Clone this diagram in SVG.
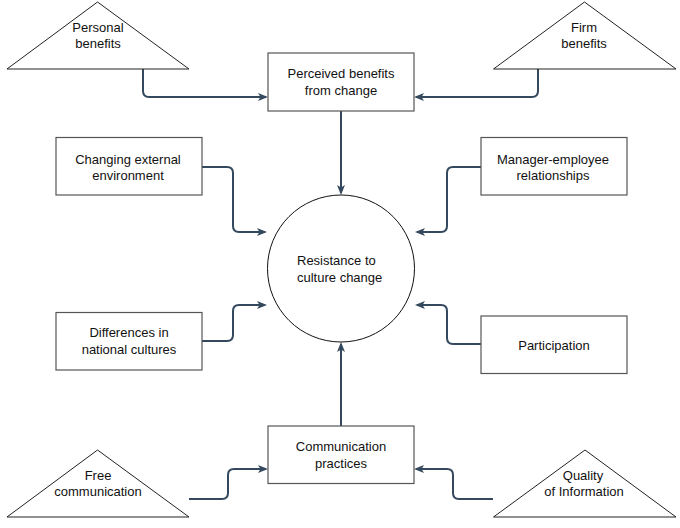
<svg xmlns="http://www.w3.org/2000/svg" width="680" height="528" viewBox="0 0 680 528">
<defs>
<style>
.box{fill:#fff;stroke:#555;stroke-width:1.2}
.tri{fill:#fff;stroke:#222;stroke-width:1}
.lbl{font-family:"Liberation Sans",Arial,sans-serif;font-size:13px;fill:#111;text-anchor:middle}
.con{fill:none;stroke:#34495e;stroke-width:2;marker-end:url(#arr)}
</style>
<marker id="arr" markerUnits="userSpaceOnUse" markerWidth="12" markerHeight="10" refX="8" refY="4" orient="auto">
<path d="M0,0 L10,4 L0,8 L2.5,4 Z" fill="#34495e"/>
</marker>
</defs>
<rect width="680" height="528" fill="#fff"/>
<g id="connectors">
<path class="con" d="M143,69 V91 Q143,97 149,97 H266"/>
<path class="con" d="M538,69 V91 Q538,97 532,97 H416"/>
<path class="con" d="M202,167 H227 Q233,167 233,173 V226 Q233,232 239,232 H265"/>
<path class="con" d="M481,167 H453 Q447,167 447,173 V226 Q447,232 441,232 H417"/>
<path class="con" d="M202,341 H227 Q233,341 233,335 V311 Q233,305 239,305 H265"/>
<path class="con" d="M481,344 H453 Q447,344 447,338 V311 Q447,305 441,305 H417"/>
<path class="con" d="M189,499 H222 Q228,499 228,493 V475 Q228,469 234,469 H266"/>
<path class="con" d="M493,499 H459 Q453,499 453,493 V475 Q453,469 447,469 H416"/>
<path class="con" d="M341,111 V193"/>
<path class="con" d="M341,426 V344"/>
</g>
<g id="personal-benefits">
<polygon class="tri" points="97.5,2 7,69 189,69"/>
<text class="lbl" x="98" y="32">Personal</text>
<text class="lbl" x="98" y="48">benefits</text>
</g>
<g id="firm-benefits">
<polygon class="tri" points="584.5,2 493.5,69 676,69"/>
<text class="lbl" x="584" y="32">Firm</text>
<text class="lbl" x="584" y="48">benefits</text>
</g>
<g id="perceived-benefits">
<rect class="box" x="268" y="53" width="146" height="58"/>
<text class="lbl" x="341" y="78">Perceived benefits</text>
<text class="lbl" x="341" y="95">from change</text>
</g>
<g id="changing-external">
<rect class="box" x="56" y="137.5" width="146" height="57.5"/>
<text class="lbl" x="128" y="163.5">Changing external</text>
<text class="lbl" x="128" y="179.5">environment</text>
</g>
<g id="manager-employee">
<rect class="box" x="481" y="137.5" width="146" height="57.5"/>
<text class="lbl" x="553" y="163.5">Manager-employee</text>
<text class="lbl" x="553" y="179.5">relationships</text>
</g>
<g id="resistance">
<circle cx="341" cy="268.5" r="73.5" fill="#fff" stroke="#111" stroke-width="1"/>
<text class="lbl" x="297" y="264.5" style="text-anchor:start">Resistance to</text>
<text class="lbl" x="297" y="281.5" style="text-anchor:start">culture change</text>
</g>
<g id="differences">
<rect class="box" x="56" y="312.5" width="146" height="57.5"/>
<text class="lbl" x="129" y="337">Differences in</text>
<text class="lbl" x="129" y="354">national cultures</text>
</g>
<g id="participation">
<rect class="box" x="481" y="316" width="146" height="57.5"/>
<text class="lbl" x="554" y="349.5">Participation</text>
</g>
<g id="communication-practices">
<rect class="box" x="268" y="426" width="146" height="57.5"/>
<text class="lbl" x="341" y="451">Communication</text>
<text class="lbl" x="341" y="468">practices</text>
</g>
<g id="free-communication">
<polygon class="tri" points="97.5,450 7,517 189,517"/>
<text class="lbl" x="98" y="480">Free</text>
<text class="lbl" x="98" y="495.5">communication</text>
</g>
<g id="quality-information">
<polygon class="tri" points="585,450 493.5,517 676,517"/>
<text class="lbl" x="583" y="480">Quality</text>
<text class="lbl" x="584" y="495.5">of Information</text>
</g>
</svg>
